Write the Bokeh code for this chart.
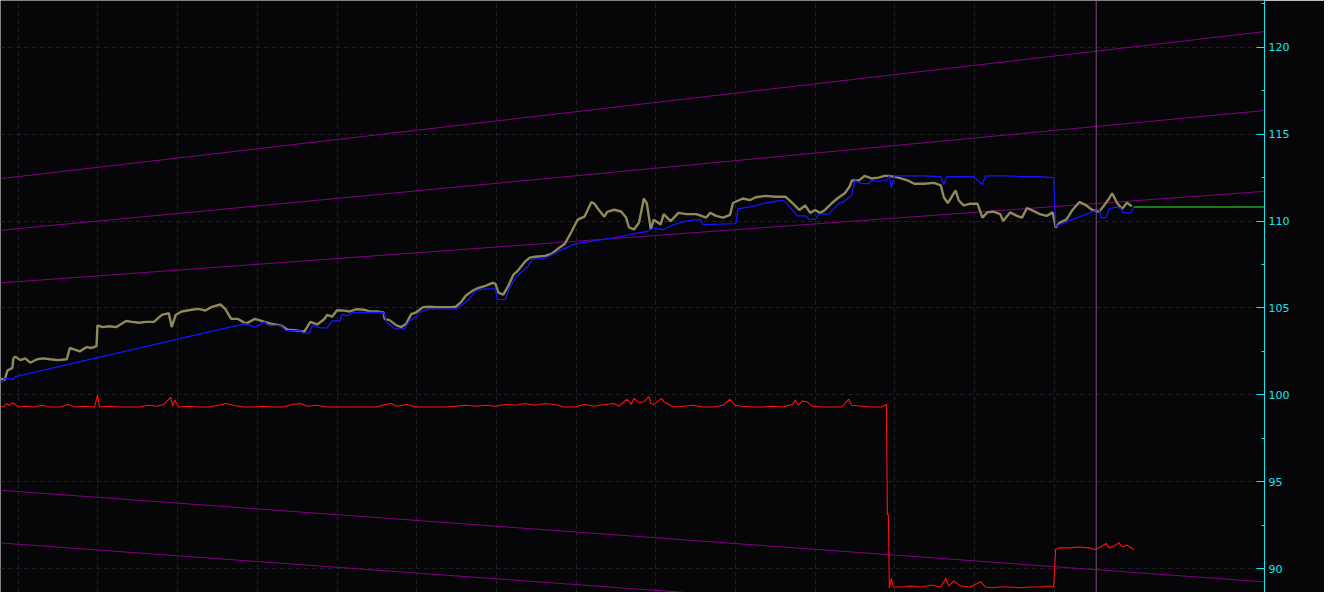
from bokeh.plotting import figure
from bokeh.models import Range1d, FixedTicker, Grid, Span
from bokeh.embed import file_html
from bokeh.resources import INLINE

# ---------------- data (bar index, price) ----------------
price_x = [0, 4, 7, 12, 13, 15, 20, 25, 30, 37, 43, 50, 58, 67, 70, 75, 80, 87, 92, 97,
           98, 103, 110, 117, 127, 133, 140, 147, 155, 163, 170, 173, 177, 183, 193, 200,
           207, 213, 222, 227, 233, 240, 248, 257, 267, 273, 283, 290, 300, 307, 313, 320,
           327, 330, 335, 340, 347, 353, 360, 367, 373, 380, 387, 388, 393, 400, 405, 410,
           415, 420, 427, 433, 440, 447, 455, 460, 465, 470, 477, 483, 490, 497, 500, 503,
           508, 513, 518, 523, 530, 535, 540, 550, 557, 563, 570, 577, 583, 590, 597, 600,
           603, 610, 613, 620, 627, 632, 635, 640, 645, 650, 653, 657, 660, 667, 670, 677,
           685, 693, 703, 713, 717, 723, 730, 737, 740, 750, 757, 763, 773, 783, 793, 800,
           807, 813, 818, 823, 828, 833, 840, 847, 853, 858, 860, 867, 873, 880, 887, 893,
           898, 907, 917, 923, 933, 943, 950, 953, 957, 960, 965, 968, 973, 980, 987, 992,
           997, 1003, 1010, 1013, 1020, 1027, 1032, 1037, 1043, 1050, 1057, 1063, 1066,
           1070, 1077, 1083, 1090, 1097, 1103, 1110, 1115, 1120, 1123, 1128, 1133, 1138,
           1143]
price_y = [100.95, 100.84, 101.4, 101.55, 102.1, 102.2, 102.0, 102.1, 101.85, 102.05,
           102.1, 102.05, 102.0, 102.05, 102.7, 102.6, 102.5, 102.75, 102.7, 102.8,
           104.0, 103.9, 103.95, 103.9, 104.25, 104.2, 104.15, 104.2, 104.2, 104.6, 104.7,
           103.9, 104.6, 104.8, 104.9, 104.95, 104.85, 105.05, 105.2, 104.95, 104.37,
           104.37, 104.1, 104.37, 104.2, 104.1, 104.0, 103.75, 103.7, 103.64, 104.2,
           104.05, 104.35, 104.6, 104.5, 104.87, 104.85, 104.8, 104.93, 104.9, 104.8,
           104.8, 104.75, 104.37, 104.3, 104.0, 103.9, 104.1, 104.65, 104.75, 105.05,
           105.07, 105.05, 105.05, 105.05, 105.07, 105.32, 105.7, 106.0, 106.16, 106.27,
           106.44, 106.4, 105.88, 105.77, 106.27, 106.9, 107.17, 107.68, 107.9, 107.95,
           108.0, 108.12, 108.4, 108.68, 109.4, 110.08, 110.25, 111.1, 111.0, 110.75,
           110.25, 110.53, 110.65, 110.55, 110.2, 109.63, 109.52, 109.9, 111.3, 111.0,
           109.52, 110.08, 109.8, 110.4, 110.0, 110.47, 110.4, 110.4, 110.2, 110.47,
           110.3, 110.2, 110.35, 111.04, 111.3, 111.2, 111.37, 111.45, 111.4, 111.4,
           111.04, 110.64, 110.9, 110.47, 110.64, 110.47, 110.64, 111.04, 111.37, 111.6,
           112.0, 112.33, 112.33, 112.6, 112.45, 112.5, 112.6, 112.6, 112.5, 112.33,
           112.15, 112.15, 112.2, 112.05, 111.37, 111.04, 111.3, 111.76, 111.2, 110.9,
           111.0, 111.0, 110.2, 110.5, 110.55, 110.4, 110.0, 110.5, 110.3, 110.2, 110.75,
           110.6, 110.4, 110.3, 110.5, 109.63, 109.9, 110.1, 110.64, 111.1, 110.9, 110.64,
           110.55, 110.9, 111.3, 111.6, 111.05, 110.7, 111.05, 110.85]

stop_x = [0, 5, 13, 15, 247, 257, 267, 270, 283, 288, 303, 305, 312, 315, 323, 330, 335,
          343, 345, 350, 357, 387, 390, 398, 408, 413, 420, 423, 433, 460, 467, 473, 480,
          490, 500, 502, 510, 513, 520, 527, 533, 537, 550, 563, 573, 580, 593, 627, 640,
          653, 660, 670, 680, 693, 707, 710, 743, 745, 760, 773, 790, 793, 805, 813, 817,
          823, 827, 837, 840, 847, 853, 860, 863, 870, 877, 880, 887, 895, 898, 900, 903,
          917, 933, 950, 953, 956, 983, 992, 995, 1017, 1033, 1050, 1064, 1066, 1068,
          1108, 1110, 1112, 1117, 1120, 1127, 1132, 1134, 1142, 1145]
stop_y = [100.67, 100.95, 100.9, 101.05, 104.1, 103.9, 104.2, 104.0, 104.0, 103.7, 103.7,
          103.55, 103.55, 104.0, 103.85, 103.86, 104.25, 104.25, 104.65, 104.55, 104.75,
          104.75, 104.2, 103.8, 103.8, 104.25, 104.48, 104.75, 104.93, 104.95, 105.2,
          105.48, 106.0, 106.1, 106.1, 105.48, 105.48, 106.0, 106.72, 107.1, 107.4, 107.8,
          107.85, 108.24, 108.5, 108.68, 108.8, 109.1, 109.28, 109.4, 109.6, 109.5, 109.8,
          110.0, 110.1, 109.8, 109.85, 110.7, 110.85, 111.04, 111.2, 111.1, 110.3, 110.3,
          110.1, 110.1, 110.4, 110.4, 110.6, 111.0, 111.15, 111.5, 112.33, 112.15, 112.15,
          112.33, 112.3, 112.33, 112.6, 111.9, 112.6, 112.6, 112.6, 112.55, 112.1, 112.55,
          112.55, 112.1, 112.6, 112.6, 112.55, 112.55, 112.5, 109.7, 109.75, 110.64,
          110.64, 110.2, 110.2, 110.7, 110.8, 110.75, 110.47, 110.47, 110.8]

osc_x = [0, 3, 6, 9, 12, 15, 18, 25, 33, 42, 50, 60, 68, 75, 85, 95, 98, 100, 110, 120,
         130, 140, 150, 158, 165, 172, 174, 176, 180, 190, 200, 210, 220, 228, 235, 245,
         255, 265, 275, 285, 295, 303, 310, 320, 330, 340, 350, 360, 370, 380, 388, 395,
         400, 410, 420, 430, 440, 450, 460, 470, 480, 490, 500, 510, 520, 530, 540, 550,
         560, 570, 580, 590, 600, 610, 620, 625, 633, 637, 640, 645, 650, 655, 657, 660,
         668, 670, 675, 680, 690, 700, 710, 720, 730, 737, 742, 750, 760, 770, 780, 790,
         800, 803, 806, 810, 815, 820, 830, 840, 850, 857, 860, 870, 880, 890, 895, 896,
         897, 898, 900, 902, 910, 920, 930, 940, 950, 955, 958, 963, 970, 980, 990, 995,
         1000, 1010, 1020, 1030, 1040, 1050, 1060, 1064, 1066, 1070, 1080, 1090, 1100,
         1105, 1110, 1117, 1120, 1125, 1130, 1133, 1138, 1142, 1145]
osc_y = [99.35, 99.3, 99.5, 99.4, 99.55, 99.45, 99.3, 99.35, 99.3, 99.4, 99.3, 99.3, 99.45,
         99.3, 99.35, 99.3, 100.0, 99.3, 99.35, 99.3, 99.3, 99.3, 99.4, 99.35, 99.45,
         99.85, 99.35, 99.7, 99.3, 99.35, 99.3, 99.3, 99.4, 99.5, 99.4, 99.3, 99.3, 99.35,
         99.3, 99.3, 99.45, 99.5, 99.35, 99.4, 99.3, 99.3, 99.3, 99.3, 99.3, 99.3, 99.45,
         99.5, 99.35, 99.45, 99.3, 99.3, 99.3, 99.3, 99.35, 99.4, 99.35, 99.4, 99.35,
         99.45, 99.4, 99.5, 99.4, 99.5, 99.45, 99.3, 99.3, 99.45, 99.35, 99.45, 99.5,
         99.35, 99.75, 99.45, 99.8, 99.55, 99.6, 99.9, 99.5, 99.45, 99.8, 99.6, 99.45,
         99.3, 99.35, 99.4, 99.3, 99.3, 99.4, 99.75, 99.4, 99.35, 99.3, 99.3, 99.35, 99.3,
         99.45, 99.7, 99.4, 99.65, 99.6, 99.35, 99.3, 99.3, 99.3, 99.75, 99.4, 99.35, 99.3,
         99.3, 99.45, 93.1, 93.1, 88.9, 89.45, 88.95, 88.95, 89.0, 88.95, 89.05, 88.95,
         89.45, 89.0, 89.3, 89.0, 88.95, 89.25, 88.95, 88.9, 88.95, 88.95, 88.9, 88.95,
         88.95, 89.0, 88.95, 91.1, 91.2, 91.2, 91.25, 91.2, 91.1, 91.2, 91.45, 91.2,
         91.3, 91.5, 91.25, 91.35, 91.2, 91.1]

# channel lines: value at first bar and at last bar
chan_start_x = 0
chan_end_x = 1277
chan_start = [112.44, 109.47, 106.44, 94.51, 91.48]
chan_end = [120.9, 116.36, 111.71, 89.24, 86.22]

last_price_x = [1145, 1277]
last_price = 110.81
cursor_x = 1107

day_ticks = [18, 98.5, 179, 259.5, 340, 420.5, 501, 581.5, 662, 742.5, 823, 903.5, 984,
             1064.5]
price_ticks = [90, 95, 100, 105, 110, 115, 120]
price_minor = [87.5, 92.5, 97.5, 102.5, 107.5, 112.5, 117.5, 122.5]

# ---------------- figure ----------------
BG = "#060609"
CYAN = "#12e6f2"
GRID = "#222226"

p = figure(width=1324, height=592, output_backend="svg", toolbar_location=None,
           x_range=Range1d(0, 1277), y_range=Range1d(88.63, 122.69),
           x_axis_location=None, y_axis_location="right",
           background_fill_color=BG, border_fill_color=BG,
           min_border_left=0, min_border_top=0, min_border_bottom=0,
           min_border_right=60)
p.outline_line_color = None

for g in p.xgrid:
    g.visible = False
p.add_layout(Grid(dimension=0, ticker=FixedTicker(ticks=day_ticks),
                  grid_line_color=GRID, grid_line_dash="4 4"))

yax = p.yaxis[0]
yax.ticker = FixedTicker(ticks=price_ticks, minor_ticks=price_minor)
yax.axis_line_color = CYAN
yax.major_tick_line_color = CYAN
yax.minor_tick_line_color = CYAN
yax.major_tick_in = 8
yax.major_tick_out = 0
yax.minor_tick_in = 3
yax.minor_tick_out = 0
yax.major_label_text_color = CYAN
yax.major_label_text_font = "DejaVu Sans"
yax.major_label_text_font_size = "11px"
yax.major_label_standoff = 4
p.ygrid.ticker = FixedTicker(ticks=price_ticks)
p.ygrid.grid_line_color = GRID
p.ygrid.grid_line_dash = "4 4"

PURPLE = "#800080"
for a, b in zip(chan_start, chan_end):
    p.line([chan_start_x, chan_end_x], [a, b], line_color=PURPLE, line_width=1)

p.add_layout(Span(location=cursor_x, dimension="height", line_color="#75507a",
                  line_width=1))

p.line(osc_x, osc_y, line_color="#ff1010", line_width=1.1)
p.line(price_x, price_y, line_color="#8f8a58", line_width=2.4)
p.line(stop_x, stop_y, line_color="#1414ff", line_width=1.3)
p.line(last_price_x, [last_price, last_price], line_color="#33ee33", line_width=1.2)

open("out.html", "w").write(file_html(p, INLINE))
